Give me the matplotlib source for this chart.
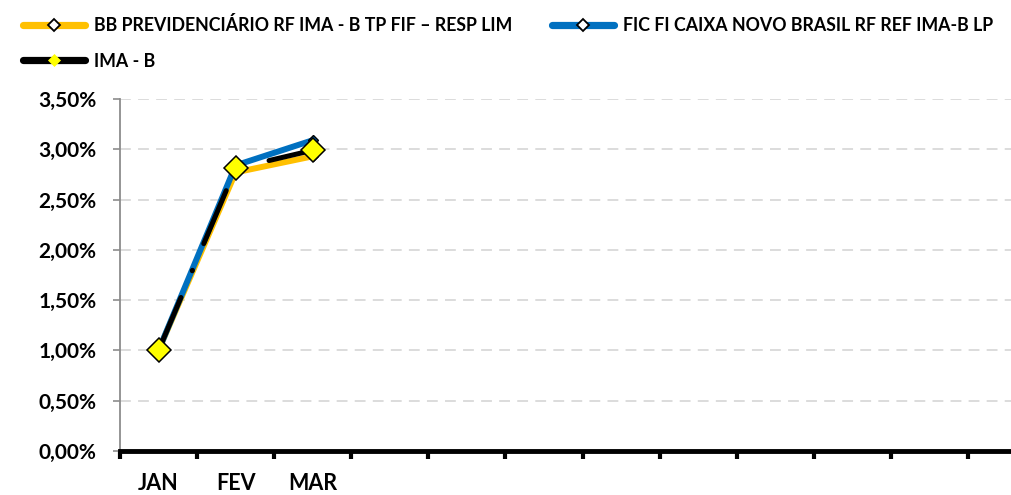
import matplotlib.pyplot as plt
from matplotlib.lines import Line2D
from matplotlib.ticker import FuncFormatter, MultipleLocator
import numpy as np

plt.rcParams['font.family'] = ['Lato', 'DejaVu Sans']
plt.rcParams['font.weight'] = 'bold'

months = ['JAN', 'FEV', 'MAR']
n_months = 12  # the axis holds the whole year
bb = [1.00, 2.77, 2.93]
fic = [1.00, 2.84, 3.09]
ima = [1.00, 2.81, 2.99]

names = ['BB PREVIDENCIÁRIO RF IMA - B TP FIF – RESP LIM',
         'FIC FI CAIXA NOVO BRASIL RF REF IMA-B LP',
         'IMA - B']

orange = '#FFC000'
blue = '#0070C0'
yellow = '#FFFF00'

fig = plt.figure(figsize=(10.11, 4.95), dpi=100)
ax = fig.add_axes([120/1011, 1 - 451/495, 925/1011, 352/495])

x = np.arange(len(months))
ax.plot(x, bb, color=orange, lw=4.3, solid_capstyle='round', zorder=3,
        marker='D', ms=5, mfc=orange, mec='black', mew=1)
ax.plot(x, fic, color=blue, lw=4.3, solid_capstyle='round', zorder=4,
        marker='D', ms=5, mfc=blue, mec='black', mew=1)
ax.plot(x, ima, color='black', lw=3.6, dashes=(11.5, 5.8, 0.1, 5.8),
        dash_capstyle='round', zorder=5)
ax.plot(x, ima, ls='none', marker='D', ms=12.5, mfc=yellow, mec='black',
        mew=1.1, zorder=6)

ax.set_xlim(-0.5, n_months - 0.5)
ax.set_ylim(0, 3.5)

# tick marks between categories, labels at centres
ax.set_xticks(np.arange(n_months + 1) - 0.5)
ax.set_xticklabels([])
ax.set_xticks(x, minor=True)
ax.set_xticklabels(months, minor=True, fontsize=15.5)
ax.tick_params(axis='x', which='major', direction='out', length=6, width=3, color='black')
ax.tick_params(axis='x', which='minor', length=0, pad=16)

ax.yaxis.set_major_locator(MultipleLocator(0.5))
ax.yaxis.set_major_formatter(FuncFormatter(lambda v, p: f'{v:.2f}%'.replace('.', ',')))
ax.tick_params(axis='y', direction='out', length=5, width=1.2, color='#8C8C8C',
               labelsize=15, pad=12)

ax.grid(axis='y', color='#D9D9D9', lw=1.3, dashes=(6, 4))
ax.set_axisbelow(True)

for s in ['top', 'right']:
    ax.spines[s].set_visible(False)
ax.spines['left'].set_color('#8C8C8C')
ax.spines['left'].set_linewidth(1.3)
ax.spines['bottom'].set_color('black')
ax.spines['bottom'].set_linewidth(3.5)
ax.spines['bottom'].set_zorder(7)

h_bb = Line2D([], [], color=orange, lw=5.2, solid_capstyle='round',
              marker='D', ms=6, mfc='white', mec='black', mew=1.3)
h_fic = Line2D([], [], color=blue, lw=5.2, solid_capstyle='round',
               marker='D', ms=6, mfc='white', mec='black', mew=1.3)
h_ima = Line2D([], [], color='black', lw=5.2, solid_capstyle='round',
               marker='D', ms=6, mfc=yellow, mec=yellow, mew=0.5)

fig.legend([h_bb, h_ima, h_fic], [names[0], names[2], names[1]], ncol=2,
           loc='upper left', bbox_to_anchor=(0.007, 1.0), frameon=False,
           fontsize=12.8, handlelength=3.5, handletextpad=0.5,
           columnspacing=2.2, labelspacing=1.05)

fig.savefig('out.png', dpi=100)
